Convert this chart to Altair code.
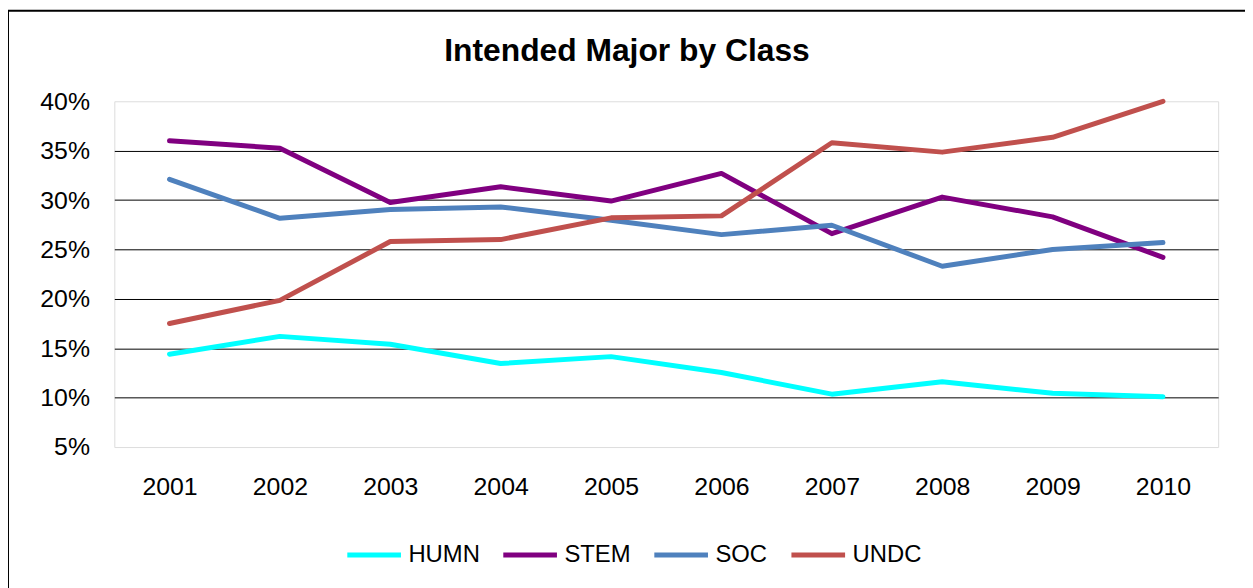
import altair as alt
import pandas as pd

years = ["2001", "2002", "2003", "2004", "2005", "2006", "2007", "2008", "2009", "2010"]
series = ["HUMN", "STEM", "SOC", "UNDC"]
colors = ["#00FFFF", "#800080", "#4F81BD", "#C0504D"]

humn = [14.4, 16.2, 15.4, 13.45, 14.15, 12.55, 10.35, 11.6, 10.45, 10.1]
stem = [36.0, 35.25, 29.75, 31.35, 29.9, 32.7, 26.6, 30.3, 28.3, 24.2]
soc = [32.1, 28.15, 29.05, 29.3, 27.95, 26.5, 27.45, 23.3, 25.0, 25.7]
undc = [17.5, 19.85, 25.8, 26.0, 28.2, 28.4, 35.8, 34.85, 36.35, 40.0]

y_ticks = [0.05, 0.10, 0.15, 0.20, 0.25, 0.30, 0.35, 0.40]
title_text = "Intended Major by Class"

values = {"HUMN": humn, "STEM": stem, "SOC": soc, "UNDC": undc}
rows = []
for s in series:
    for yr, v in zip(years, values[s]):
        rows.append({"Year": yr, "Major": s, "Share": v / 100.0})
df = pd.DataFrame(rows)

FONT = "Liberation Sans"
W, H = 1111, 348
PL, PT, PR, PB = 107, 92, 27, 140

color_enc = alt.Color(
    "Major:N",
    scale=alt.Scale(domain=series, range=colors),
    legend=alt.Legend(
        title=None,
        orient="none",
        legendX=232,
        legendY=427,
        direction="horizontal",
        columns=4,
        columnPadding=13,
        symbolType="stroke",
        symbolSize=2916,
        symbolStrokeWidth=5,
        labelFontSize=24,
        labelFont=FONT,
        labelColor="black",
        labelOffset=5,
        padding=0,
    ),
)

base = alt.Chart(df).encode(
    x=alt.X(
        "Year:O",
        sort=years,
        scale=alt.Scale(padding=0.5),
        axis=alt.Axis(
            title=None,
            labelAngle=0,
            labelFontSize=25,
            labelFont=FONT,
            labelColor="black",
            labelPadding=28,
            domain=False,
            ticks=False,
            grid=False,
        ),
    ),
    y=alt.Y(
        "Share:Q",
        scale=alt.Scale(domain=[0.05, 0.40], nice=False, zero=False),
        axis=alt.Axis(
            title=None,
            values=y_ticks,
            format=".0%",
            labelFontSize=25,
            labelFont=FONT,
            labelColor="black",
            labelPadding=25,
            domain=False,
            ticks=False,
            grid=True,
            gridColor="black",
            gridWidth=1,
            gridOpacity={"condition": {"test": "datum.value < 0.06 || datum.value > 0.39", "value": 0}, "value": 1},
        ),
    ),
    color=color_enc,
)

layers = []
for s in series:
    layers.append(
        base.transform_filter(alt.datum.Major == s).mark_line(
            strokeWidth=5, strokeCap="round", strokeJoin="round"
        )
    )

border = alt.Chart(pd.DataFrame({"a": [0]})).mark_rect(
    fill=None, stroke="black", strokeWidth=2
).encode(
    x=alt.value(-PL),
    x2=alt.value(W + PR + 20),
    y=alt.value(-PT + 1),
    y2=alt.value(H + PB + 20),
)

title = alt.Chart(pd.DataFrame({"t": [title_text]})).mark_text(
    font=FONT, fontSize=32, fontWeight="bold", color="black",
    align="center", baseline="alphabetic",
).encode(
    text="t:N",
    x=alt.value(516),
    y=alt.value(-41),
)

chart = alt.layer(*layers, border, title).properties(
    width=W,
    height=H,
    padding={"left": PL, "top": PT, "right": PR, "bottom": PB},
    autosize=alt.AutoSizeParams(type="none"),
).configure_view(
    stroke="#808080", strokeWidth=3
).configure(background="white")

chart.save("out.html", embed_options={"renderer": "svg", "actions": False})
